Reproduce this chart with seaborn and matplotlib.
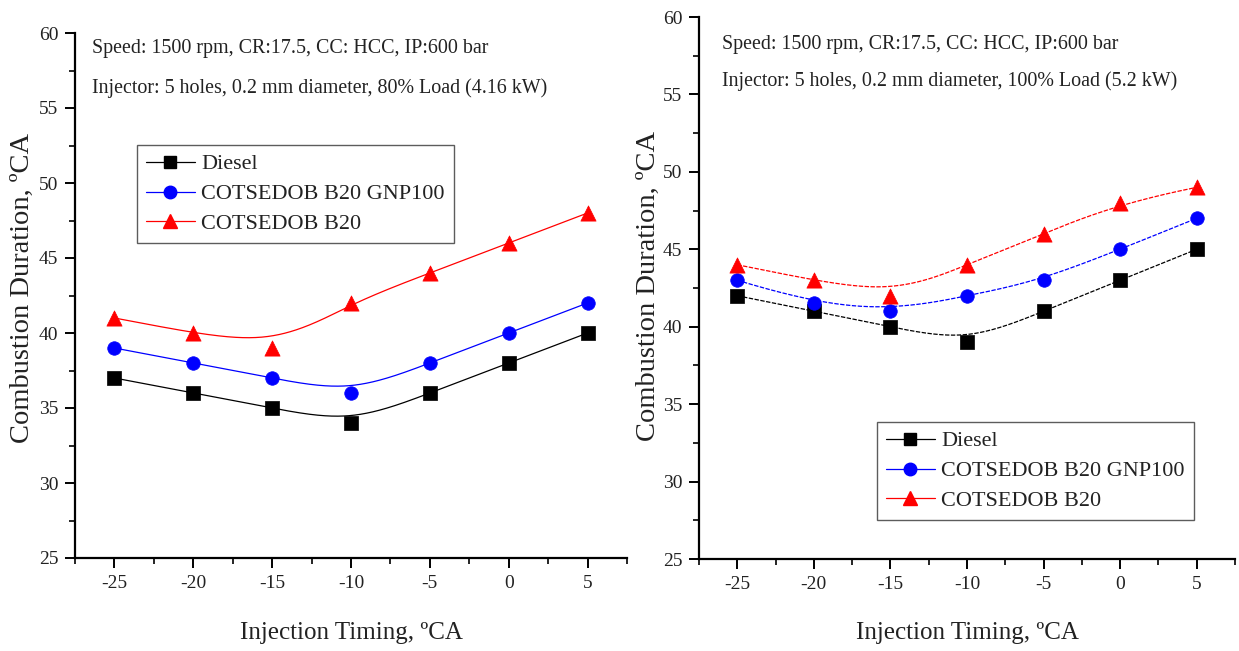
import numpy as np
import pandas as pd
import matplotlib
matplotlib.use("Agg")
import matplotlib.pyplot as plt
import seaborn as sns
from matplotlib.lines import Line2D

# ---------------- data ----------------
timing = [-25, -20, -15, -10, -5, 0, 5]
series_names = ["Diesel", "COTSEDOB B20 GNP100", "COTSEDOB B20"]

diesel_80 = [37, 36, 35, 34, 36, 38, 40]
gnp_80 = [39, 38, 37, 36, 38, 40, 42]
b20_80 = [41, 40, 39, 42, 44, 46, 48]

diesel_100 = [42, 41, 40, 39, 41, 43, 45]
gnp_100 = [43, 41.5, 41, 42, 43, 45, 47]
b20_100 = [44, 43, 42, 44, 46, 48, 49]

note1_l = "Speed: 1500 rpm, CR:17.5, CC: HCC, IP:600 bar"
note2_l = "Injector: 5 holes, 0.2 mm diameter, 80% Load (4.16 kW)"
note1_r = "Speed: 1500 rpm, CR:17.5, CC: HCC, IP:600 bar"
note2_r = "Injector: 5 holes, 0.2 mm diameter, 100% Load (5.2 kW)"
xlabel = "Injection Timing, \u00baCA"
ylabel = "Combustion Duration, \u00baCA"

colors = ["#000000", "#0000FF", "#FF0000"]
markers = ["s", "o", "^"]


def bspline(cx, cy, deg=3, num=400):
    """Clamped uniform B-spline using the data points as control points."""
    cx = np.asarray(cx, float)
    cy = np.asarray(cy, float)
    n = len(cx)
    inner = n - deg
    knots = np.concatenate([np.zeros(deg), np.arange(inner + 1), np.full(deg, inner)]).astype(float)
    t = np.linspace(0, inner, num)
    t[-1] -= 1e-9
    N = np.array([((knots[i] <= t) & (t < knots[i + 1])).astype(float) for i in range(len(knots) - 1)])
    for p in range(1, deg + 1):
        newN = []
        for i in range(len(knots) - 1 - p):
            d1 = knots[i + p] - knots[i]
            d2 = knots[i + p + 1] - knots[i + 1]
            a = (t - knots[i]) / d1 * N[i] if d1 > 0 else 0 * t
            b = (knots[i + p + 1] - t) / d2 * N[i + 1] if d2 > 0 else 0 * t
            newN.append(a + b)
        N = np.array(newN)
    return N.T @ cx, N.T @ cy


sns.set_theme(style="white")
plt.rcParams["font.family"] = ["Liberation Serif", "DejaVu Serif"]

fig = plt.figure(figsize=(12.39, 6.51), dpi=100)
axL = fig.add_axes([75 / 1239, 1 - 558 / 651, 552 / 1239, 525 / 651])
axR = fig.add_axes([699 / 1239, 1 - 559 / 651, 536 / 1239, 542 / 651])

panels = [
    (axL, [diesel_80, gnp_80, b20_80], "-", (note1_l, note2_l), (92, 48, 88)),
    (axR, [diesel_100, gnp_100, b20_100], (0, (3.5, 1.2)), (note1_r, note2_r), (722, 44, 81)),
]

for ax, vals, ls, notes, npos in panels:
    for name, v, c, m in zip(series_names, vals, colors, markers):
        sx, sy = bspline(timing, v)
        curve = pd.DataFrame({"x": sx, "y": sy})
        sns.lineplot(data=curve, x="x", y="y", ax=ax, color=c, lw=0.9,
                     linestyle=ls, sort=False, estimator=None, legend=False)
        pts = pd.DataFrame({"x": timing, "y": v})
        sns.scatterplot(data=pts, x="x", y="y", ax=ax, color=c, marker=m,
                        s=95 if m != "^" else 120, edgecolor=c, linewidth=0.5,
                        legend=False, zorder=5)
    ax.set_xlim(-27.5, 7.5)
    ax.set_ylim(25, 60)
    ax.set_xticks(timing)
    ax.set_xticklabels([str(t) for t in timing])
    ax.set_yticks(np.arange(25, 61, 5))
    ax.set_xticks(np.arange(-27.5, 7.6, 5), minor=True)
    ax.set_yticks(np.arange(27.5, 60, 5), minor=True)
    for s in ["top", "right"]:
        ax.spines[s].set_visible(False)
    for s in ["left", "bottom"]:
        ax.spines[s].set_color("black")
        ax.spines[s].set_linewidth(1.6)
    ax.tick_params(which="major", direction="out", length=7, width=1.4,
                   color="black", labelsize=14, labelcolor="#222222",
                   bottom=True, left=True, pad=5)
    ax.tick_params(which="minor", direction="out", length=4, width=1.2,
                   color="black", bottom=True, left=True)
    ax.set_xlabel(xlabel, fontsize=18, color="#222222")
    ax.set_ylabel(ylabel, fontsize=20.5, color="#222222")
    ax.grid(False)
    ax.set_facecolor("white")
    x0, y1, y2 = npos
    fig.text(x0 / 1239, 1 - y1 / 651, notes[0], fontsize=14.4, va="center", ha="left", color="#222222")
    fig.text(x0 / 1239, 1 - y2 / 651, notes[1], fontsize=14.4, va="center", ha="left", color="#222222")

axL.xaxis.set_label_coords(0.5, -(633 - 558) / 525)
axL.xaxis.label.set_va("center")
axL.yaxis.set_label_coords(-(75 - 22) / 552, (558 - 288) / 525)
axL.yaxis.label.set_va("center")
axR.xaxis.set_label_coords(0.5, -(633 - 559) / 542)
axR.xaxis.label.set_va("center")
axR.yaxis.set_label_coords(-(699 - 648) / 536, (559 - 286) / 542)
axR.yaxis.label.set_va("center")


def handles():
    return [Line2D([0], [0], color=c, lw=0.9, linestyle="-", marker=m,
                   markersize=9 if m != "^" else 10, markerfacecolor=c, markeredgecolor=c)
            for c, m in zip(colors, markers)]


for ax, (lx, ly) in [(axL, (137, 145)), (axR, (877, 422))]:
    leg = fig.legend(handles(), series_names, loc="upper left",
                     bbox_to_anchor=(lx / 1239, 1 - ly / 651),
                     bbox_transform=fig.transFigure, frameon=True, fancybox=False,
                     fontsize=16, handlelength=2.2, handletextpad=0.3,
                     labelspacing=0.42, borderpad=0.4, borderaxespad=0)
    leg.get_frame().set_edgecolor("#333333")
    leg.get_frame().set_linewidth(1.0)
    for t in leg.get_texts():
        t.set_color("#222222")

fig.savefig("out.png", dpi=100, facecolor="white")
